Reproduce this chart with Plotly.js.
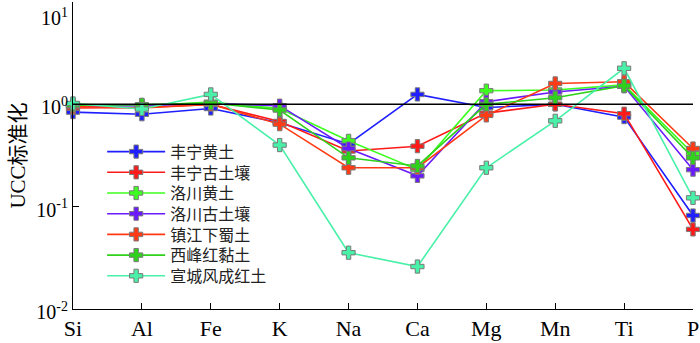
<!DOCTYPE html>
<html>
<head>
<meta charset="utf-8">
<script src="https://cdn.plot.ly/plotly-3.0.1.min.js"></script>
<style>
  html, body { margin: 0; padding: 0; background: #fff; }
  #chart { width: 700px; height: 343px; }
</style>
</head>
<body>
<div id="chart"></div>
<script>
// element categories on the x axis
const elements = ['Si', 'Al', 'Fe', 'K', 'Na', 'Ca', 'Mg', 'Mn', 'Ti', 'P'];

// UCC-normalised values
const fengningLoess   = [0.84, 0.80, 0.91, 0.66, 0.41, 1.25, 0.93, 1.00, 0.75, 0.082];
const fengningPaleo   = [0.92, 0.93, 1.00, 0.68, 0.35, 0.39, 0.82, 1.00, 0.81, 0.060];
const luochuanLoess   = [1.00, 0.97, 1.05, 0.91, 0.44, 0.23, 1.36, 1.38, 1.55, 0.33];
const luochuanPaleo   = [0.96, 0.97, 1.02, 0.97, 0.37, 0.20, 1.06, 1.32, 1.50, 0.23];
const zhenjiangXiashu = [0.95, 0.92, 1.00, 0.64, 0.24, 0.24, 0.78, 1.60, 1.66, 0.37];
const xifengRedClay   = [0.98, 0.99, 1.03, 0.88, 0.30, 0.25, 1.00, 1.16, 1.52, 0.30];
const xuanchengRed    = [1.02, 0.90, 1.25, 0.40, 0.0355, 0.026, 0.24, 0.69, 2.25, 0.122];

const seriesNames = ['丰宁黄土', '丰宁古土壤', '洛川黄土', '洛川古土壤', '镇江下蜀土', '西峰红黏土', '宣城风成红土'];
const seriesData = [fengningLoess, fengningPaleo, luochuanLoess, luochuanPaleo, zhenjiangXiashu, xifengRedClay, xuanchengRed];
const seriesColors = ['#1f1fff', '#ff1a1a', '#3cff1e', '#6a1aff', '#ff3a14', '#2ed21a', '#48f0a8'];

const yTickVals = [0.01, 0.1, 1, 10];
// leading <br> pushes the top label down inside the figure, as in the original
const yTickText = ['10<sup>-2</sup>', '10<sup>-1</sup>', '10<sup>0</sup>', '<br>10<sup>1</sup>'];

const serif = 'Liberation Serif, Times New Roman, serif';
const cjk = 'Liberation Serif, Noto Sans CJK SC, serif';

const W = 700, H = 343;
const M = { l: 73, r: 7, t: 2, b: 34 };
const plotH = H - M.t - M.b;

const xIdx = elements.map((e, i) => i);

// one small legend per series so the rows sit as tight as the original
const legendName = k => (k === 0 ? 'legend' : 'legend' + (k + 1));

const traces = seriesData.map((vals, k) => ({
    x: xIdx,
    y: vals,
    type: 'scatter',
    mode: 'lines+markers',
    name: seriesNames[k],
    legend: legendName(k),
    cliponaxis: false,
    line: { color: seriesColors[k], width: 1.6 },
    marker: {
        symbol: 'cross',
        size: 11,
        color: seriesColors[k],
        line: { color: '#7a7a7a', width: 1 }
    }
}));

const layout = {
    width: W,
    height: H,
    margin: M,
    paper_bgcolor: '#fff',
    plot_bgcolor: '#fff',
    showlegend: true,
    xaxis: {
        range: [0, 9],
        tickvals: xIdx,
        ticktext: elements,
        ticks: 'inside',
        ticklen: 6,
        tickcolor: '#000',
        showline: true,
        linecolor: '#000',
        linewidth: 1,
        showgrid: false,
        zeroline: false,
        ticklabeloverflow: 'allow',
        tickfont: { family: serif, size: 22, color: '#000' }
    },
    yaxis: {
        type: 'log',
        range: [-2, 1],
        tickvals: yTickVals,
        ticktext: yTickText,
        ticks: 'inside',
        ticklen: 6,
        tickcolor: '#000',
        showline: true,
        linecolor: '#000',
        linewidth: 1,
        showgrid: false,
        zeroline: false,
        ticklabeloverflow: 'allow',
        ticklabelshift: 3,
        tickfont: { family: serif, size: 20, color: '#000' },
        title: { text: 'UCC标准化', font: { family: cjk, size: 21, color: '#000' }, standoff: 4 }
    },
    shapes: [{
        type: 'line', xref: 'paper', yref: 'y',
        x0: 0, x1: 1, y0: 1, y1: 1,
        line: { color: '#000', width: 1.5 }
    }]
};

// legend rows: first row centre and spacing in pixels
const rowTop = 151.7, rowStep = 20.7;
seriesNames.forEach((n, k) => {
    const yc = rowTop + k * rowStep;
    layout[legendName(k)] = {
        x: 0.047,
        y: (H - M.b - yc) / plotH,
        xanchor: 'left',
        yanchor: 'middle',
        bgcolor: 'rgba(0,0,0,0)',
        font: { family: 'Noto Sans CJK SC', size: 16, color: '#222' },
        itemwidth: 58
    };
});

Plotly.newPlot('chart', traces, layout, { displayModeBar: false, staticPlot: true });
</script>
</body>
</html>
